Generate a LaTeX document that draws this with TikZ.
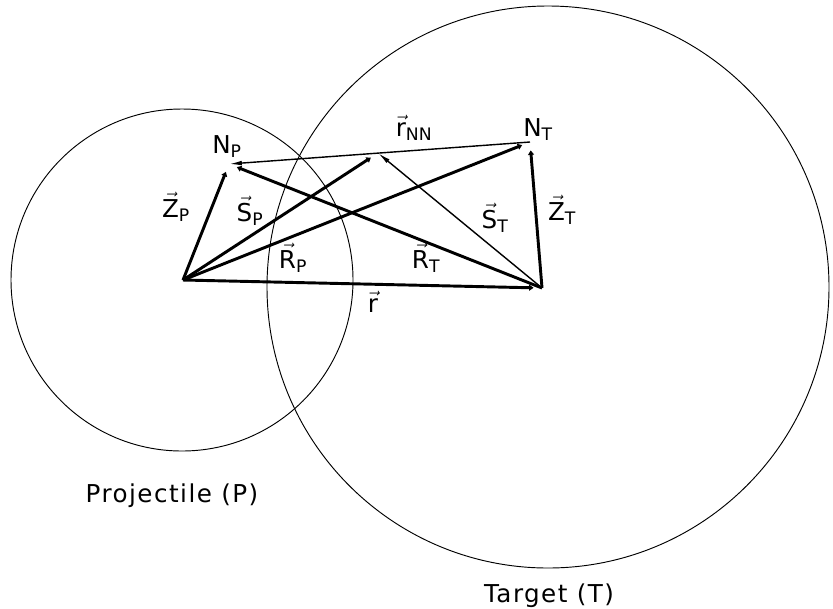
\documentclass[tikz,border=0pt]{standalone}
\usepackage{amsmath}
\usepackage{fontspec}
\setmainfont{DejaVu Sans}
\newfontfamily\lettering[LetterSpace=6]{DejaVu Sans}
\usetikzlibrary{arrows.meta}

\begin{document}
\begin{tikzpicture}[x=0.3mm, y=-0.3mm, >={Latex[length=11pt, width=4pt]},
    font=\fontsize{21}{25}\selectfont,
    nucleus/.style={draw, line width=0.8pt},
    vecthick/.style={->, line width=2.5pt},
    vecthin/.style={->, line width=1.2pt},
    lbl/.style={anchor=base, inner sep=0pt},
    nuclabel/.style={anchor=base, inner sep=0pt,
                     font=\fontsize{21}{25}\selectfont\lettering}]
    \useasboundingbox (0,0) rectangle (833,608);

    \coordinate (P)  at (183,280);
    \coordinate (T)  at (542,288);
    \coordinate (NP) at (229,164);
    \coordinate (NT) at (530,142);
    \coordinate (M)  at (378,153);

    % nuclei
    \draw[nucleus] (182,280) circle[radius=171];
    \draw[nucleus] (548,287) circle[radius=281];

    % vectors
    \draw[vecthick] (P) -- (NP);
    \draw[vecthick] (P) -- (M);
    \draw[vecthick] (P) -- (NT);
    \draw[vecthick] (P) -- (T);
    \draw[vecthick] (T) -- (NP);
    \draw[vecthin]  (T) -- (M);
    \draw[vecthick] (T) -- (NT);
    \draw[vecthin]  (NT) -- (NP);

    % labels
    \node[lbl] (np) at (227,153) {$\text{N}_{\text{P}}$};
    \node[lbl] (nt) at (538,136) {$\text{N}_{\text{T}}$};
    \node[lbl] (zp) at (176,217) {$\vec{\text{Z}}_{\text{P}}$};
    \node[lbl] (sp) at (250,221) {$\vec{\text{S}}_{\text{P}}$};
    \node[lbl] (rp) at (293,268) {$\vec{\text{R}}_{\text{P}}$};
    \node[lbl] (rnn) at (414,136) {$\vec{\text{r}}_{\text{NN}}$};
    \node[lbl] (st) at (495,228) {$\vec{\text{S}}_{\text{T}}$};
    \node[lbl] (zt) at (562,220) {$\vec{\text{Z}}_{\text{T}}$};
    \node[lbl] (rt) at (426,268) {$\vec{\text{R}}_{\text{T}}$};
    \node[lbl] (r)  at (373,312) {$\vec{\text{r}}$};

    \node[nuclabel] (proj) at (172,502) {Projectile (P)};
    \node[nuclabel] (targ) at (549,602) {Target (T)};
\end{tikzpicture}
\end{document}
